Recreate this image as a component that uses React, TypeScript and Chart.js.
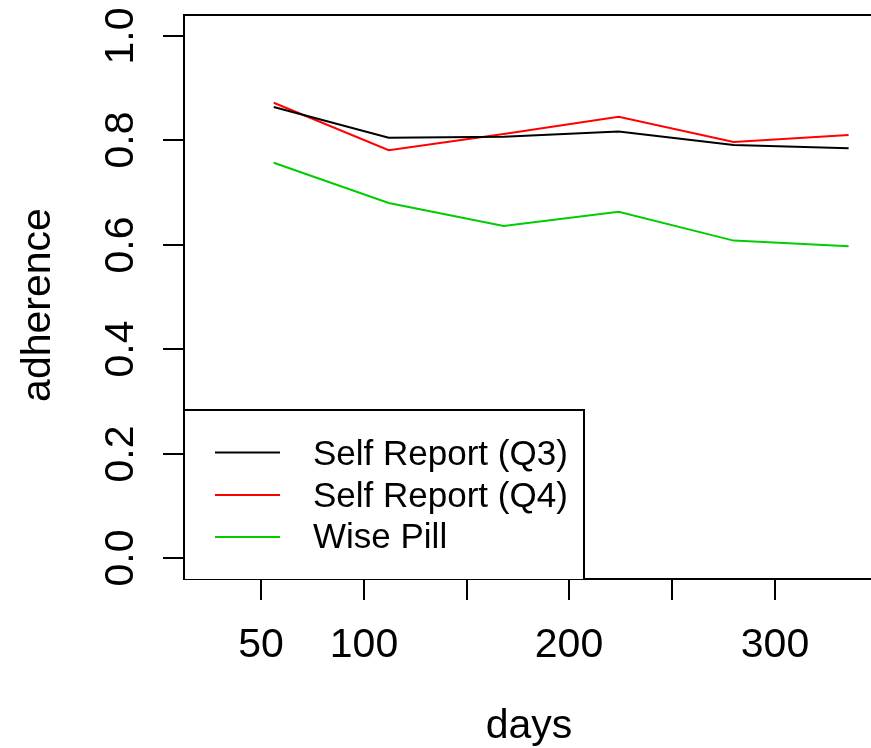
import React, { useEffect, useRef } from "react";
import { Chart, registerables } from "chart.js";

Chart.register(...registerables);

const days = [56, 112, 168, 224, 280, 336];
const selfReportQ3 = [0.864, 0.805, 0.807, 0.817, 0.791, 0.785];
const selfReportQ4 = [0.872, 0.781, 0.812, 0.845, 0.797, 0.81];
const wisePill = [0.757, 0.68, 0.636, 0.663, 0.608, 0.597];

const seriesNames = ["Self Report (Q3)", "Self Report (Q4)", "Wise Pill"];
const seriesColors = ["#000000", "#FF0000", "#00CD00"];

const xTicks = [50, 100, 150, 200, 250, 300];
const xTickLabels = ["50", "100", "", "200", "", "300"];
const yTicks = [0, 0.2, 0.4, 0.6, 0.8, 1.0];
const yTickLabels = ["0.0", "0.2", "0.4", "0.6", "0.8", "1.0"];

const xTitle = "days";
const yTitle = "adherence";

const FONT = "'Liberation Sans', Arial, Helvetica, sans-serif";

const rAxesPlugin = {
  id: "rAxes",
  afterDraw(chart: any) {
    const { ctx, chartArea } = chart;
    const xs = chart.scales.x;
    const ys = chart.scales.y;
    const { left, top, right, bottom } = chartArea;
    ctx.save();
    ctx.strokeStyle = "#000";
    ctx.lineWidth = 2;
    ctx.lineCap = "butt";
    // box (right side is off the picture)
    ctx.beginPath();
    ctx.moveTo(right + 5, top);
    ctx.lineTo(left, top);
    ctx.lineTo(left, bottom);
    ctx.lineTo(right + 5, bottom);
    ctx.stroke();

    // x ticks
    ctx.fillStyle = "#000";
    ctx.font = `41px ${FONT}`;
    ctx.textAlign = "center";
    ctx.textBaseline = "alphabetic";
    xTicks.forEach((v, i) => {
      const px = Math.round(xs.getPixelForValue(v));
      ctx.beginPath();
      ctx.moveTo(px, bottom);
      ctx.lineTo(px, bottom + 21);
      ctx.stroke();
      if (xTickLabels[i]) ctx.fillText(xTickLabels[i], px, 657);
    });

    // y ticks
    yTicks.forEach((v, i) => {
      const py = Math.round(ys.getPixelForValue(v));
      ctx.beginPath();
      ctx.moveTo(left, py);
      ctx.lineTo(left - 21, py);
      ctx.stroke();
      ctx.save();
      ctx.translate(133, py);
      ctx.rotate(-Math.PI / 2);
      ctx.textAlign = "center";
      ctx.textBaseline = "alphabetic";
      ctx.fillText(yTickLabels[i], 0, 0);
      ctx.restore();
    });

    // titles
    ctx.textAlign = "center";
    ctx.fillText(xTitle, 529, 738);
    ctx.save();
    ctx.translate(50, 305);
    ctx.rotate(-Math.PI / 2);
    ctx.fillText(yTitle, 0, 0);
    ctx.restore();

    // legend
    const lx0 = left + 1;
    const ly0 = 410;
    const lx1 = 584;
    const ly1 = bottom;
    ctx.fillStyle = "#fff";
    ctx.fillRect(lx0, ly0, lx1 - lx0, ly1 - ly0);
    ctx.strokeStyle = "#000";
    ctx.lineWidth = 2;
    ctx.beginPath();
    ctx.moveTo(lx0, ly0);
    ctx.lineTo(lx1, ly0);
    ctx.lineTo(lx1, ly1);
    ctx.stroke();
    ctx.font = `35px ${FONT}`;
    ctx.textAlign = "left";
    const lineYs = [452.5, 495, 537];
    const baseYs = [465, 506.5, 548.3];
    seriesNames.forEach((name, i) => {
      ctx.strokeStyle = seriesColors[i];
      ctx.lineWidth = 2;
      ctx.beginPath();
      ctx.moveTo(215, lineYs[i]);
      ctx.lineTo(280, lineYs[i]);
      ctx.stroke();
      ctx.fillStyle = "#000";
      ctx.fillText(name, 313, baseYs[i]);
    });
    ctx.restore();
  },
};

export default function App() {
  const ref = useRef<HTMLCanvasElement | null>(null);
  useEffect(() => {
    if (!ref.current) return;
    document.body.style.overflow = "hidden";
    const mk = (vals: number[]) => days.map((d, i) => ({ x: d, y: vals[i] }));
    const chart = new Chart(ref.current, {
      type: "line",
      data: {
        datasets: [selfReportQ3, selfReportQ4, wisePill].map((vals, i) => ({
          label: seriesNames[i],
          data: mk(vals),
          borderColor: seriesColors[i],
          backgroundColor: seriesColors[i],
          borderWidth: 2,
          pointRadius: 0,
          tension: 0,
          fill: false,
        })),
      },
      options: {
        responsive: false,
        animation: false,
        devicePixelRatio: 1,
        layout: { padding: { left: 184, top: 15, right: 0, bottom: 169 } },
        plugins: {
          legend: { display: false },
          title: { display: false },
          tooltip: { enabled: false },
        },
        scales: {
          x: { type: "linear", display: false, min: 12.3, max: 346.9 },
          y: { type: "linear", display: false, min: -0.04, max: 1.04 },
        },
      },
      plugins: [rAxesPlugin],
    });
    return () => chart.destroy();
  }, []);
  return (
    <div style={{ position: "fixed", left: 0, top: 0, width: 871, height: 748, background: "#fff" }}>
      <canvas ref={ref} width={871} height={748} style={{ display: "block" }} />
    </div>
  );
}
